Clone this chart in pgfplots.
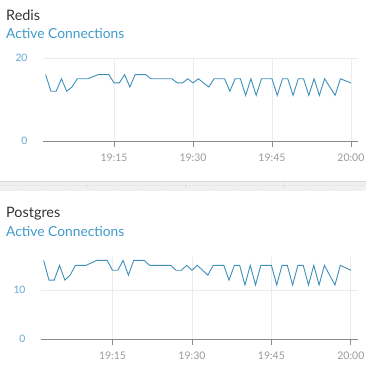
\documentclass[border=0pt]{standalone}
\usepackage{pgfplots}
\pgfplotsset{compat=1.18}
\usepackage{pgfplotstable}
\usepackage{fontspec}
\setmainfont{Lato}
\definecolor{linec}{HTML}{3C90BA}
\definecolor{subc}{HTML}{3F9AC9}
\definecolor{titlec}{HTML}{333333}
\definecolor{ylabc}{HTML}{62A8D1}
\definecolor{xlabc}{HTML}{9B9B9B}
\definecolor{axc}{HTML}{8C8C8C}
\definecolor{gridc}{HTML}{EBEBEB}
\definecolor{sepc}{HTML}{F0F0F0}
\definecolor{seplc}{HTML}{D9D9D9}

\pgfplotstableread{
m v
2 16
3 12
4 12
5 15
6 12
7 13
8 15
9 15
10 15
11 15.5
12 16
13 16
14 16
15 14
16 14
17 16
18 13
19 16
20 16
21 16
22 15
23 15
24 15
25 15
26 15
27 14
28 14
29 15
30 14
31 15
32 14
33 13
34 15
35 15
36 15
37 12
38 15
39 15
40 11
41 15
42 11
43 15
44 15
45 15
46 11
47 15
48 15
49 11
50 15
51 15
52 11
53 15
54 11
55 15
56 13
57 11
58 15
59 14.5
60 14
}\conn

\pgfplotsset{
  dash/.style={
    scale only axis,
    xmin=1.5, xmax=61.4,
    axis x line*=bottom,
    axis y line*=left,
    y axis line style={draw=none},
    x axis line style={draw=axc, line width=0.8pt},
    xtick={15,30,45,60},
    xticklabels={19:15,19:30,19:45,20:00},
    xtick align=outside,
    ytick align=inside,
    major tick length=6pt,
    xtick style={draw=axc, line width=0.8pt},
    ytick style={draw=none},
    grid=major,
    major grid style={draw=gridc, line width=0.8pt},
    x tick label style={font=\fontsize{10.5}{12}\selectfont, text=xlabc, yshift=-3pt},
    y tick label style={font=\fontsize{10.3}{12}\selectfont, text=ylabc, xshift=-12pt},
    /pgf/number format/assume math mode=true,
    clip=false,
  }
}

\begin{document}
\begin{tikzpicture}
\path[use as bounding box] (0pt,0pt) rectangle (366pt,-368pt);
% separator band
\fill[sepc] (0pt,-181pt) rectangle (366pt,-191pt);
\draw[seplc, line width=0.8pt] (0pt,-181.4pt) -- (366pt,-181.4pt);
\draw[seplc, line width=0.8pt, dash pattern=on 1pt off 2pt] (0pt,-185pt) -- (366pt,-185pt);
\foreach \xx in {86,185,284} {\draw[seplc, line width=0.8pt, dash pattern=on 1pt off 1.5pt] (\xx pt,-182pt) -- (\xx pt,-189pt);}

\node[anchor=base west, inner sep=0pt, font=\fontsize{14.4}{16}\selectfont, text=titlec] at (6pt,-20pt) {Redis};
\node[anchor=base west, inner sep=0pt, font=\fontsize{13.8}{15}\selectfont, text=subc] at (6pt,-38.3pt) {Active Connections};

\begin{axis}[dash, at={(43pt,-141pt)}, anchor=south west, width=315.3pt, height=83pt,
  ymin=0, ymax=20, ytick={0,20}]
\addplot[linec, line width=0.9pt, mark=none] table[x=m, y=v] {\conn};
\end{axis}

\node[anchor=base west, inner sep=0pt, font=\fontsize{14.4}{16}\selectfont, text=titlec] at (6pt,-217.7pt) {Postgres};
\node[anchor=base west, inner sep=0pt, font=\fontsize{13.8}{15}\selectfont, text=subc] at (6pt,-236.7pt) {Active Connections};

\begin{axis}[dash, at={(41pt,-339pt)}, anchor=south west, width=317.3pt, height=82pt,
  ymin=0, ymax=16.7, ytick={0,10}]
\addplot[linec, line width=0.9pt, mark=none] table[x=m, y=v] {\conn};
\end{axis}
\end{tikzpicture}
\end{document}
